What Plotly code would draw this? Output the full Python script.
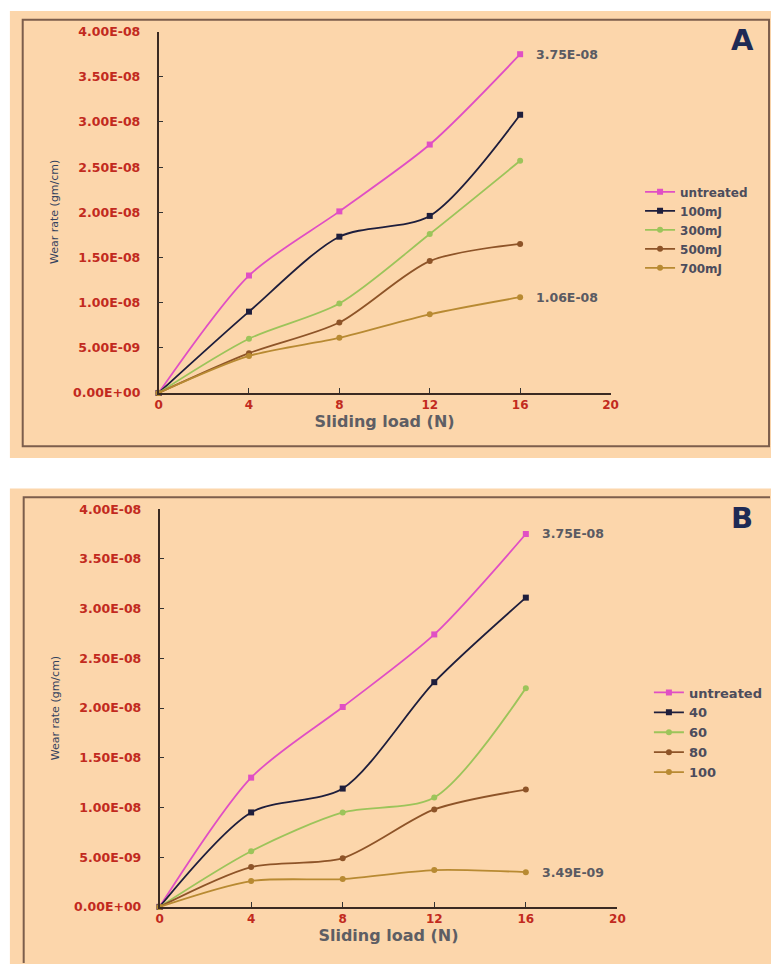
import plotly.graph_objects as go

# ---------------- data ----------------
loads = [0, 4, 8, 12, 16]

a_names = ["untreated", "100mJ", "300mJ", "500mJ", "700mJ"]
a_untreated = [0, 1.30e-8, 2.01e-8, 2.75e-8, 3.75e-8]
a_100mJ = [0, 0.90e-8, 1.73e-8, 1.96e-8, 3.08e-8]
a_300mJ = [0, 0.60e-8, 0.99e-8, 1.76e-8, 2.57e-8]
a_500mJ = [0, 0.44e-8, 0.78e-8, 1.46e-8, 1.65e-8]
a_700mJ = [0, 0.41e-8, 0.61e-8, 0.87e-8, 1.06e-8]

b_names = ["untreated", "40", "60", "80", "100"]
b_untreated = [0, 1.30e-8, 2.01e-8, 2.74e-8, 3.75e-8]
b_40 = [0, 0.95e-8, 1.19e-8, 2.26e-8, 3.11e-8]
b_60 = [0, 0.56e-8, 0.95e-8, 1.10e-8, 2.20e-8]
b_80 = [0, 0.40e-8, 0.49e-8, 0.98e-8, 1.18e-8]
b_100 = [0, 0.26e-8, 0.28e-8, 0.37e-8, 0.349e-8]

y_tickvals = [0, 0.5e-8, 1.0e-8, 1.5e-8, 2.0e-8, 2.5e-8, 3.0e-8, 3.5e-8, 4.0e-8]
y_ticktext = ["0.00E+00", "5.00E-09", "1.00E-08", "1.50E-08", "2.00E-08",
              "2.50E-08", "3.00E-08", "3.50E-08", "4.00E-08"]
x_tickvals = [0, 4, 8, 12, 16, 20]

a_labels = [("3.75E-08", 16, 3.75e-8), ("1.06E-08", 16, 1.06e-8)]
b_labels = [("3.75E-08", 16, 3.75e-8), ("3.49E-09", 16, 0.349e-8)]

# ---------------- style ----------------
W, H = 779, 971
FONT = "DejaVu Sans"
PEACH = "#FCD6AB"
BORDER = "#7C5E4C"
RED = "#C22A1E"
colors = ["#E04FC4", "#1E1E3C", "#9CC45A", "#8E5428", "#B88A32"]
symbols = ["square", "square", "circle", "circle", "circle"]


def px_x(p):
    return p / W


def px_y(p):
    return 1 - p / H


fig = go.Figure()

a_series = [a_untreated, a_100mJ, a_300mJ, a_500mJ, a_700mJ]
b_series = [b_untreated, b_40, b_60, b_80, b_100]

for name, ys, c, s in zip(a_names, a_series, colors, symbols):
    fig.add_trace(go.Scatter(
        x=loads, y=ys, name=name, mode="lines+markers",
        line=dict(color=c, width=1.8, shape="spline", smoothing=0.8),
        marker=dict(color=c, size=6, symbol=s),
        xaxis="x", yaxis="y", legend="legend", cliponaxis=False))

for name, ys, c, s in zip(b_names, b_series, colors, symbols):
    fig.add_trace(go.Scatter(
        x=loads, y=ys, name=name, mode="lines+markers",
        line=dict(color=c, width=1.8, shape="spline", smoothing=0.8),
        marker=dict(color=c, size=6, symbol=s),
        xaxis="x2", yaxis="y2", legend="legend2", cliponaxis=False))

xaxis_common = dict(
    range=[0, 20], tickvals=x_tickvals, ticks="inside", ticklen=5,
    tickcolor="#333", showline=True, linecolor="#3A2A22", linewidth=1.5,
    showgrid=False, zeroline=False,
    tickfont=dict(family=FONT, size=12, color=RED, weight="bold"),
    title=dict(text="Sliding load (N)", standoff=2,
               font=dict(family=FONT, size=16, color="#5E5E64", weight="bold")),
)
yaxis_common = dict(
    range=[0, 4.0e-8], tickvals=y_tickvals, ticktext=y_ticktext,
    ticks="inside", ticklen=5, tickcolor="#333",
    showline=True, linecolor="#3A2A22", linewidth=1.5,
    showgrid=False, zeroline=False, ticklabelstandoff=14,
    tickfont=dict(family=FONT, size=12.5, color=RED, weight="bold"),
)

fig.update_layout(
    width=W, height=H,
    margin=dict(l=0, r=0, t=0, b=0),
    paper_bgcolor="white",
    plot_bgcolor=PEACH,
    xaxis=dict(domain=[px_x(157), px_x(616)], anchor="y", **xaxis_common),
    yaxis=dict(domain=[px_y(391), px_y(24)], anchor="x", **yaxis_common),
    xaxis2=dict(domain=[px_x(158), px_x(623)], anchor="y2", **xaxis_common),
    yaxis2=dict(domain=[px_y(913), px_y(509)], anchor="x2", **yaxis_common),
    legend=dict(x=px_x(646), y=px_y(172), xanchor="left", yanchor="top",
                bgcolor="rgba(0,0,0,0)", tracegroupgap=0, itemwidth=30,
                font=dict(family=FONT, size=12, color="#4C4C5C", weight="bold")),
    legend2=dict(x=px_x(655), y=px_y(680), xanchor="left", yanchor="top",
                 bgcolor="rgba(0,0,0,0)", tracegroupgap=0, itemwidth=30,
                 font=dict(family=FONT, size=13, color="#4C4C5C", weight="bold")),
    showlegend=True,
)

shapes = []
# peach panel backgrounds (kept inside the paper)
for (x0, y0, x1, y1) in [(6, 3, 779, 457), (6, 488, 779, 971)]:
    shapes.append(dict(type="rect", xref="paper", yref="paper",
                       x0=px_x(x0), x1=px_x(x1), y0=px_y(y1), y1=px_y(y0),
                       fillcolor=PEACH, line=dict(width=0), layer="below"))
# panel A frame
shapes.append(dict(type="rect", xref="paper", yref="paper",
                   x0=px_x(19), x1=px_x(777), y0=px_y(445), y1=px_y(12),
                   fillcolor="rgba(0,0,0,0)", line=dict(color=BORDER, width=2),
                   layer="below"))
# panel B frame: only left and top edges are visible in the picture
shapes.append(dict(type="path", xref="paper", yref="paper",
                   path=f"M {px_x(20)},{px_y(970)} L {px_x(20)},{px_y(497)} L {px_x(778)},{px_y(497)}",
                   line=dict(color=BORDER, width=2), layer="below"))
fig.update_layout(shapes=shapes)

annotations = []
for text, xv, yv in a_labels:
    annotations.append(dict(x=xv, y=yv, xref="x", yref="y", text=text,
                            showarrow=False, xanchor="left", xshift=14,
                            font=dict(family=FONT, size=12.5, color="#5A5A62", weight="bold")))
for text, xv, yv in b_labels:
    annotations.append(dict(x=xv, y=yv, xref="x2", yref="y2", text=text,
                            showarrow=False, xanchor="left", xshift=14,
                            font=dict(family=FONT, size=12.5, color="#5A5A62", weight="bold")))
for letter, cy in [("A", 32), ("B", 518)]:
    annotations.append(dict(x=px_x(750), y=px_y(cy), xref="paper", yref="paper",
                            text=letter, showarrow=False, xanchor="center", yanchor="middle",
                            font=dict(family=FONT, size=29, color="#1E2A55", weight="bold")))
for cy in [207, 711]:
    annotations.append(dict(x=px_x(52), y=px_y(cy), xref="paper", yref="paper",
                            text="Wear rate (gm/cm)", textangle=-90, showarrow=False,
                            xanchor="center", yanchor="middle",
                            font=dict(family=FONT, size=11, color="#34425E")))
fig.update_layout(annotations=annotations)

fig.write_html("out.html", config={"displayModeBar": False},
               post_script="document.body.style.margin='0';")
